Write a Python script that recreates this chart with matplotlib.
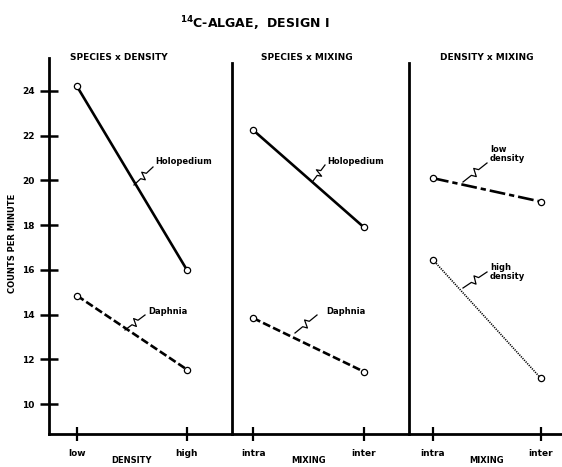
import matplotlib
matplotlib.use('Agg')
import matplotlib.pyplot as plt
from matplotlib.lines import Line2D
import numpy as np

plt.rcParams['font.family'] = ['Liberation Sans Narrow', 'DejaVu Sans']
plt.rcParams['font.weight'] = 'bold'

# data
panel_titles = ['SPECIES x DENSITY', 'SPECIES x MIXING', 'DENSITY x MIXING']
panel_xlabels = ['DENSITY', 'MIXING', 'MIXING']
panel_ticks = [['low', 'high'], ['intra', 'inter'], ['intra', 'inter']]

holo_density = [24.2, 16.0]
daph_density = [14.85, 11.55]
holo_mixing = [22.25, 17.9]
daph_mixing = [13.85, 11.45]
lowdens_mixing = [20.1, 19.05]
highdens_mixing = [16.45, 11.15]

yticks = [10, 12, 14, 16, 18, 20, 22, 24]

W, H = 562, 467
fig = plt.figure(figsize=(W / 100, H / 100), dpi=100)

# panel geometry in pixels (left, right) and x limits in category units
left, right, top, bottom = 49, 562, 58, 434
widths = [183, 177, 153]
xlims = [(-0.255, 1.41), (-0.19, 1.405), (-0.222, 1.194)]
ylim = (8.67, 25.47)

axes = []
x0 = left
for i, w in enumerate(widths):
    ax = fig.add_axes([x0 / W, 1 - bottom / H, w / W, (bottom - top) / H])
    x0 += w
    ax.set_xlim(*xlims[i])
    ax.set_ylim(*ylim)
    for s in ['top', 'right']:
        ax.spines[s].set_visible(False)
    ax.spines['bottom'].set_linewidth(2.0)
    ax.spines['left'].set_linewidth(2.0)
    if i > 0:
        ax.spines['left'].set_bounds(ylim[0], 25.24)
        ax.set_yticks([])
    ax.set_xticks([0, 1])
    ax.set_xticklabels(panel_ticks[i], fontsize=6.5)
    ax.tick_params(axis='x', direction='inout', length=10, width=1.6, pad=6)
    ax.set_facecolor('none')
    axes.append(ax)

ax1, ax2, ax3 = axes
ax1.set_yticks(yticks)
ax1.set_yticklabels([str(t) for t in yticks], fontsize=6.5)
ax1.tick_params(axis='y', direction='inout', length=13, width=1.8, pad=4)

mk = dict(marker='o', ms=4.5, mfc='white', mec='black', mew=0.9, color='black')
x = [0, 1]
ax1.plot(x, holo_density, lw=1.9, **mk)
ax1.plot(x, daph_density, lw=1.9, ls=(0, (3, 1.2)), **mk)
ax2.plot(x, holo_mixing, lw=1.9, **mk)
ax2.plot(x, daph_mixing, lw=1.9, ls=(0, (3, 1.2)), **mk)
ax3.plot(x, lowdens_mixing, lw=1.9, ls=(0, (6, 1.5, 2, 1.5)), **mk)
ax3.plot(x, highdens_mixing, lw=1.2, ls=(0, (0.7, 0.7)), **mk)

# titles and axis names
title_x = [0.38, 0.48, 0.5]
for ax, t, xl, tx in zip(axes, panel_titles, panel_xlabels, title_x):
    ax.text(tx, 1.0, t, transform=ax.get_xaxis_transform(), ha='center',
            va='center', fontsize=6.5)
    ax.text(0.5, -0.07, xl, transform=ax.get_xaxis_transform(), ha='center',
            va='center', fontsize=6)

fig.text(255 / W, 1 - 24 / H, r'$^{14}$C-ALGAE,  DESIGN I', ha='center',
         va='center', fontsize=9)
fig.text(13 / W, 1 - 243 / H, 'COUNTS PER MINUTE', rotation=90, ha='center',
         va='center', fontsize=6)


def px(xp, yp):
    return xp / W, 1 - yp / H


def squiggle(p0, p1):
    p0 = np.array(p0, float)
    p1 = np.array(p1, float)
    d = p1 - p0
    n = np.array([-d[1], d[0]]) / np.hypot(*d)
    pts = [p0, p0 + 0.35 * d, p0 + 0.45 * d + 4 * n, p0 + 0.55 * d - 4 * n,
           p0 + 0.65 * d, p1]
    xs, ys = zip(*[px(*p) for p in pts])
    fig.add_artist(Line2D(xs, ys, color='black', lw=0.9,
                          transform=fig.transFigure))


notes = [
    ('Holopedium', (155, 162), (134, 185), (153, 167)),
    ('Daphnia', (148, 312), (125, 330), (145, 315)),
    ('Holopedium', (327, 162), (313, 181), (325, 165)),
    ('Daphnia', (326, 311), (295, 333), (317, 315)),
    ('low\ndensity', (490, 154), (463, 182), (487, 163)),
    ('high\ndensity', (490, 272), (463, 288), (487, 272)),
]
for txt, tp, a, b in notes:
    fig.text(*px(*tp), txt, ha='left', va='center', fontsize=6,
             linespacing=1.1)
    squiggle(a, b)

fig.savefig('out.png', dpi=100)
